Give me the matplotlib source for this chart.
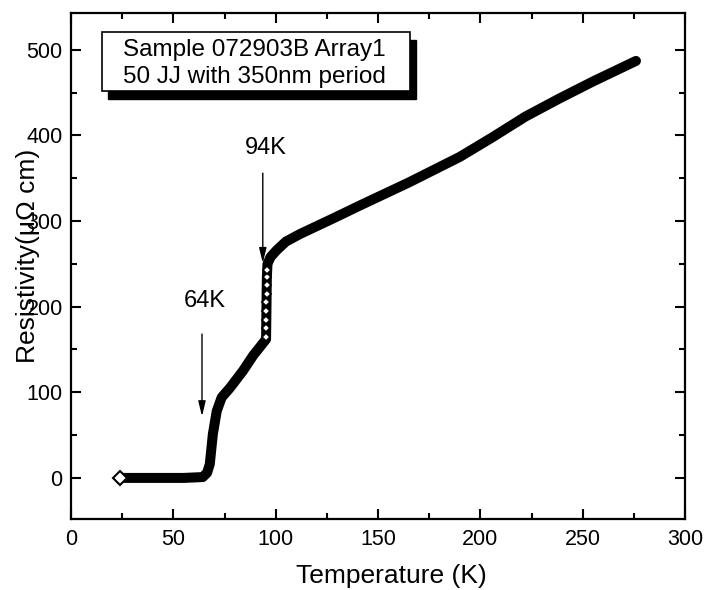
import matplotlib
matplotlib.use("Agg")
import matplotlib.pyplot as plt
from matplotlib.patches import Rectangle

plt.rcParams['font.family'] = ['Liberation Sans', 'DejaVu Sans']

# Data
temperature = [24, 40, 55, 64.4, 66.5, 67.8, 69.3, 71.2, 73.6, 77.6, 84, 89, 93, 95.3,
               95.4, 95.5, 95.6, 95.7, 96.0, 97.5, 100.5, 105, 112, 128, 141, 165,
               190, 206, 222, 238.5, 255, 276]
resistivity = [0, 0, 0, 1, 6, 16, 51, 78, 94, 105, 125, 143, 155, 162,
               180, 200, 220, 235, 250, 258, 266, 276, 285, 303, 318, 345,
               375, 398, 422, 443, 463, 487]
jump_T = [95.3, 95.35, 95.4, 95.45, 95.5, 95.55, 95.6, 95.65, 95.7]
jump_R = [165, 175, 185, 195, 205, 215, 225, 235, 243]

annot_labels = ["94K", "64K"]
annot_T = [93.7, 64.0]
annot_tip = [251, 72]
annot_tail = [356, 168]
annot_text_pos = [(95, 385), (65.5, 207)]

box_lines = ["Sample 072903B Array1", "50 JJ with 350nm period"]

x_ticks = [0, 50, 100, 150, 200, 250, 300]
y_ticks = [0, 100, 200, 300, 400, 500]

fig = plt.figure(figsize=(7.07, 5.90), dpi=100)
ax = fig.add_axes([0.1004, 0.1203, 0.8686, 0.8577])

ax.plot(temperature, resistivity, color='black', lw=7.2, solid_capstyle='round',
        solid_joinstyle='round', zorder=3)
ax.plot(jump_T, jump_R, linestyle='none', marker='D', ms=4.5, mfc='white',
        mec='black', mew=1.2, zorder=4)
ax.plot(temperature[:1], resistivity[:1], linestyle='none', marker='D', ms=7,
        mfc='white', mec='black', mew=1.5, zorder=5)

ax.set_xlim(0, 300)
ax.set_ylim(-48, 543)
ax.set_xticks(x_ticks)
ax.set_yticks(y_ticks)
ax.set_xticks([25, 75, 125, 175, 225, 275], minor=True)
ax.set_yticks([50, 150, 250, 350, 450], minor=True)
ax.tick_params(which='both', direction='in', top=True, right=True, width=1.5,
               labelsize=15.5)
ax.tick_params(which='major', length=7, pad=6)
ax.tick_params(which='minor', length=4)
ax.tick_params(axis='x', which='major', pad=7)
for sp in ax.spines.values():
    sp.set_linewidth(1.6)

ax.set_xlabel("Temperature (K)", fontsize=19)
ax.set_ylabel("Resistivity(μΩ cm)", fontsize=19)
ax.xaxis.set_label_coords(0.522, -0.088)
ax.yaxis.set_label_coords(-0.05, 0.52)

for lab, t, tip, tail, tp in zip(annot_labels, annot_T, annot_tip, annot_tail, annot_text_pos):
    ax.annotate('', xy=(t, tip), xytext=(t, tail),
                arrowprops=dict(arrowstyle='-|>,head_length=0.9,head_width=0.22',
                                lw=1.0, color='black', shrinkA=0, shrinkB=0))
    ax.text(tp[0], tp[1], lab, fontsize=17, ha='center', va='center')

# Text box with shadow
bx0, bx1, by0, by1 = 0.050, 0.552, 0.846, 0.962
shadow = Rectangle((bx0 + 0.010, by0 - 0.015), bx1 - bx0, by1 - by0,
                   transform=ax.transAxes, facecolor='black', edgecolor='black',
                   zorder=5, clip_on=False)
box = Rectangle((bx0, by0), bx1 - bx0, by1 - by0, transform=ax.transAxes,
                facecolor='white', edgecolor='black', lw=1.2, zorder=6, clip_on=False)
ax.add_patch(shadow)
ax.add_patch(box)
ax.text(0.085, 0.926, box_lines[0], transform=ax.transAxes, fontsize=17.5,
        ha='left', va='center', zorder=7)
ax.text(0.085, 0.874, box_lines[1], transform=ax.transAxes, fontsize=17.5,
        ha='left', va='center', zorder=7)

fig.savefig("out.png", dpi=100)
